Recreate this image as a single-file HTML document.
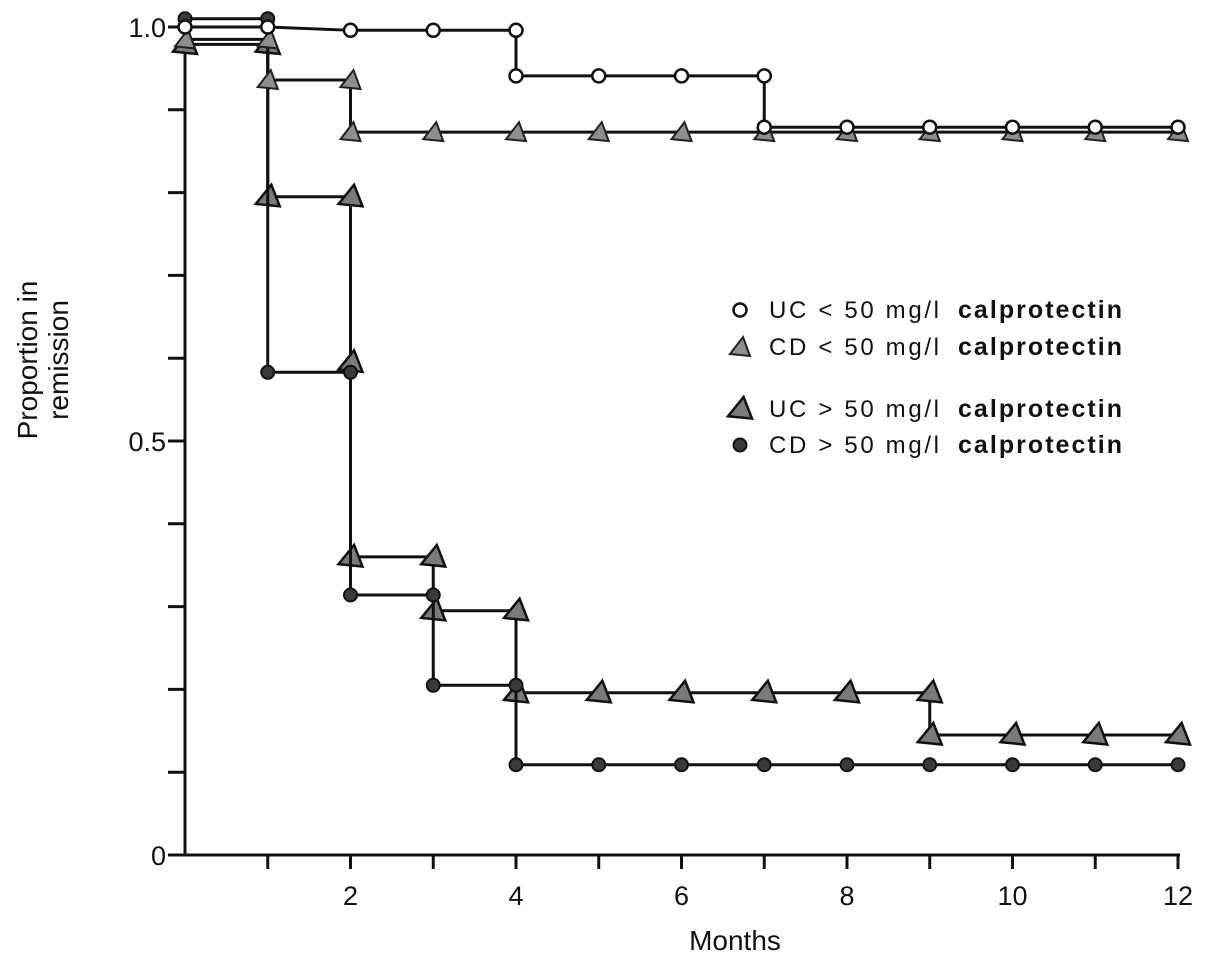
<!DOCTYPE html>
<html><head><meta charset="utf-8"><style>
html,body{margin:0;padding:0;background:#fff;}
svg{display:block;font-family:"Liberation Sans",Arial,sans-serif;}
</style></head><body>
<svg id="chart" width="1205" height="963" viewBox="0 0 1205 963" xmlns="http://www.w3.org/2000/svg">
<g id="axes"></g>
<g id="series"></g>
<g id="legend"></g>
</svg>
<script>
const ucLowMonths=[0,1,2,3,4,4,5,6,7,7,8,9,10,11,12];
const ucLowValues=[1.0,1.0,0.996,0.996,0.996,0.941,0.941,0.941,0.941,0.879,0.879,0.879,0.879,0.879,0.879];
const cdLowMonths=[0,1,1,2,2,3,4,5,6,7,8,9,10,11,12];
const cdLowValues=[0.985,0.985,0.936,0.936,0.873,0.873,0.873,0.873,0.873,0.873,0.873,0.873,0.873,0.873,0.873];
const ucHighMonths=[0,1,1,2,2,2,3,3,4,4,5,6,7,8,9,9,10,11,12];
const ucHighValues=[0.979,0.979,0.795,0.795,0.595,0.36,0.36,0.295,0.295,0.196,0.196,0.196,0.196,0.196,0.196,0.145,0.145,0.145,0.145];
const cdHighMonths=[0,1,1,2,2,3,3,4,4,5,6,7,8,9,10,11,12];
const cdHighValues=[1.01,1.01,0.583,0.583,0.314,0.314,0.205,0.205,0.109,0.109,0.109,0.109,0.109,0.109,0.109,0.109,0.109];
const yTickValues=[0,0.1,0.2,0.3,0.4,0.5,0.6,0.7,0.8,0.9,1.0];
const yTickLabels=["0","","","","","0.5","","","","","1.0"];
const xTickValues=[1,2,3,4,5,6,7,8,9,10,11,12];
const xTickLabels=["","2","","4","","6","","8","","10","","12"];

const NS="http://www.w3.org/2000/svg";
const X=m=>185+m*(1178-185)/12;
const Y=v=>855-v*828;
function mk(tag,attrs,parent){const e=document.createElementNS(NS,tag);for(const k in attrs)e.setAttribute(k,attrs[k]);parent.appendChild(e);return e;}
const axes=document.getElementById('axes');
let a=mk('line',{x1:185,y1:Y(1.0)-2,x2:185,y2:856,stroke:'#111','stroke-width':3},axes);

let xa=mk('line',{x1:184,y1:855,x2:1180,y2:855,stroke:'#111','stroke-width':3},axes);

yTickValues.forEach((v,i)=>{
  let t=mk('line',{x1:168,y1:Y(v),x2:185,y2:Y(v),stroke:'#111','stroke-width':3},axes);
  
  if(yTickLabels[i]){let l=mk('text',{x:166,y:Y(v)+10,'text-anchor':'end','font-size':27,fill:'#111'},axes);l.textContent=yTickLabels[i];
  }
});
xTickValues.forEach((m,i)=>{
  let t=mk('line',{x1:X(m),y1:855,x2:X(m),y2:869,stroke:'#111','stroke-width':3},axes);
  
  if(xTickLabels[i]){let l=mk('text',{x:X(m),y:905,'text-anchor':'middle','font-size':27,fill:'#111'},axes);l.textContent=xTickLabels[i];
  }
});
let xt=mk('text',{x:735,y:950,'text-anchor':'middle','font-size':28,fill:'#111'},axes);xt.textContent='Months';

let yt=mk('text',{transform:'translate(45,360) rotate(-90)','text-anchor':'middle','font-size':28,fill:'#111'},axes);

let s1=mk('tspan',{x:0,dy:-8},yt);s1.textContent='Proportion in';
let s2=mk('tspan',{x:0,dy:31},yt);s2.textContent='remission';

const ser=document.getElementById('series');
function marker(type,cx,cy,parent){
  let e;
  if(type==='open')e=mk('circle',{cx,cy,r:6.5,fill:'#fff',stroke:'#111','stroke-width':2.5},parent);
  else if(type==='dot')e=mk('circle',{cx,cy,r:6.5,fill:'#3a3a3a',stroke:'#111','stroke-width':2},parent);
  else if(type==='smalltri'){const s=10;e=mk('polygon',{points:`${cx-s},${cy+s*0.7} ${cx+s},${cy+s*0.9} ${cx+s*0.3},${cy-s}`,fill:'#8e8e8e',stroke:'#222','stroke-width':2},parent);}
  else {const s=12;e=mk('polygon',{points:`${cx-s},${cy+s*0.6} ${cx+s},${cy+s*0.8} ${cx+s*0.3},${cy-s}`,fill:'#7a7a7a',stroke:'#111','stroke-width':2.5},parent);}
  return e;
}
function drawSeries(name,months,values,type){
  const g=mk('g',{},ser);
  
  const d=months.map((m,i)=>(i?'L':'M')+X(m)+','+Y(values[i])).join(' ');
  const p=mk('path',{d,fill:'none',stroke:'#111','stroke-width':3},g);
  
  months.forEach((m,i)=>{const mm=marker(type,X(m),Y(values[i]),g);
    });
}
drawSeries('uc-high-series',ucHighMonths,ucHighValues,'bigtri');
drawSeries('cd-high-series',cdHighMonths,cdHighValues,'dot');
drawSeries('cd-low-series',cdLowMonths,cdLowValues,'smalltri');
drawSeries('uc-low-series',ucLowMonths,ucLowValues,'open');

const leg=document.getElementById('legend');
const legendRows=[['open','UC < 50 mg/l',308],['smalltri','CD < 50 mg/l',345],['bigtri','UC > 50 mg/l',407],['dot','CD > 50 mg/l',443]];
legendRows.forEach(r=>{
  const g=mk('g',{},leg);
  
  marker(r[0],740,r[2]+2,g);
  let t=mk('text',{x:769,y:r[2]+10,'font-size':24,textLength:170,lengthAdjust:'spacing',fill:'#111'},g);t.textContent=r[1];
  let b=mk('text',{x:958,y:r[2]+10,'font-size':25,'font-weight':'bold',textLength:164,lengthAdjust:'spacing',fill:'#111'},g);b.textContent='calprotectin';
});
</script>
</body></html>
